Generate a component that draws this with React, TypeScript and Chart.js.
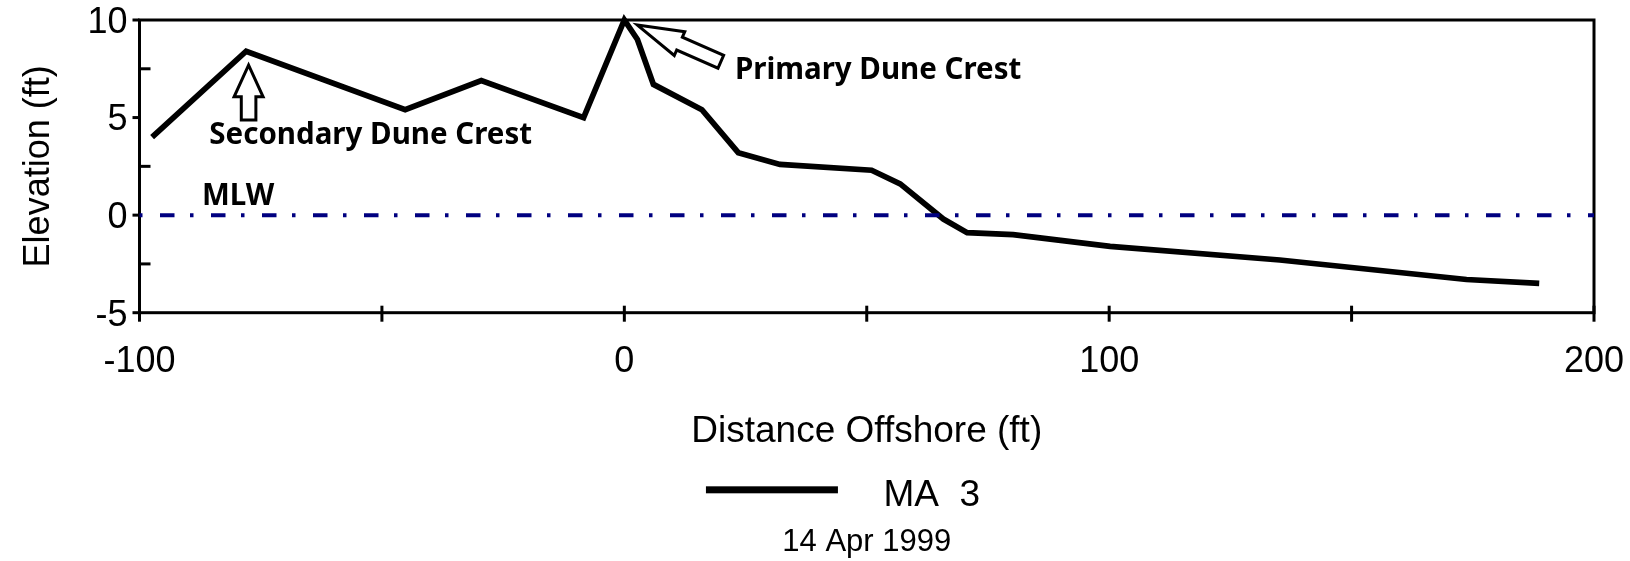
import React, { useEffect, useRef } from 'react';
import { Chart, registerables } from 'chart.js';

Chart.register(...registerables);

// ---- data ----
const distance = [-97.4, -78, -45.2, -29.5, -8.4, 0, 2.7, 6, 16, 23.5, 32.1, 51, 56.9, 65.8, 70.7, 80.2, 100.2, 135.2, 173.7, 188.7];
const elevation = [4.0, 8.4, 5.4, 6.9, 5.0, 10.0, 9.0, 6.7, 5.4, 3.2, 2.6, 2.3, 1.6, -0.2, -0.9, -1.0, -1.6, -2.3, -3.3, -3.5];
const mlwDistance = [-100, 200];
const mlwElevation = [0, 0];
const xMajorTicks = [-100, 0, 100, 200];
const xMinorTicks = [-50, 50, 150];
const yMajorTicks = [-5, 0, 5, 10];
const yMinorTicks = [-2.5, 2.5, 7.5];
const seriesName = 'MA  3';
const dateLabel = '14 Apr 1999';
const xTitle = 'Distance Offshore (ft)';
const yTitle = 'Elevation (ft)';

// annotation anchors in data coordinates
const noteTexts = [
  { text: 'Secondary Dune Crest', x: -85.6, y: 3.62 },
  { text: 'Primary Dune Crest', x: 22.8, y: 7.0 },
  { text: 'MLW', x: -87.1, y: 0.54 },
];
const noteArrows = [
  { tipX: -77.5, tipY: 7.69, tailX: -77.5, tailY: 4.87, head: 31.7, headHalf: 14.5, shaftHalf: 7.3 },
  { tipX: 2.7, tipY: 9.74, tailX: 19.9, tailY: 7.86, head: 46, headHalf: 13, shaftHalf: 7 },
];

const AXIS_FONT = 'Liberation Sans, Arial, Helvetica, sans-serif';
const NOTE_FONT = '"Noto Sans", "DejaVu Sans", sans-serif';

const framePlugin = {
  id: 'frameTicks',
  beforeDatasetsDraw(chart: any) {
    const { ctx, chartArea: ca, scales } = chart;
    const xs = scales.x, ys = scales.y;
    ctx.save();
    ctx.strokeStyle = '#000';
    ctx.lineWidth = 3;
    ctx.lineCap = 'butt';
    ctx.strokeRect(ca.left, ca.top, ca.right - ca.left, ca.bottom - ca.top);
    // x ticks (crossing)
    [...xMajorTicks, ...xMinorTicks].forEach((v) => {
      const px = xs.getPixelForValue(v);
      ctx.beginPath();
      ctx.moveTo(px, ca.bottom - 7);
      ctx.lineTo(px, ca.bottom + 9);
      ctx.stroke();
    });
    // y major ticks outward
    yMajorTicks.forEach((v) => {
      const py = ys.getPixelForValue(v);
      ctx.beginPath();
      ctx.moveTo(ca.left - 7, py);
      ctx.lineTo(ca.left, py);
      ctx.stroke();
    });
    // y minor ticks inward
    yMinorTicks.forEach((v) => {
      const py = ys.getPixelForValue(v);
      ctx.beginPath();
      ctx.moveTo(ca.left, py);
      ctx.lineTo(ca.left + 11, py);
      ctx.stroke();
    });
    ctx.restore();
  },
  afterDatasetsDraw(chart: any) {
    const { ctx, scales } = chart;
    const xs = scales.x, ys = scales.y;
    ctx.save();
    // hollow arrows
    noteArrows.forEach((a) => {
      const tx = xs.getPixelForValue(a.tipX), ty = ys.getPixelForValue(a.tipY);
      const bx = xs.getPixelForValue(a.tailX), by = ys.getPixelForValue(a.tailY);
      const len = Math.hypot(bx - tx, by - ty);
      const ux = (bx - tx) / len, uy = (by - ty) / len;
      const nx = -uy, ny = ux;
      const hx = tx + ux * a.head, hy = ty + uy * a.head;
      ctx.beginPath();
      ctx.moveTo(tx, ty);
      ctx.lineTo(hx + nx * a.headHalf, hy + ny * a.headHalf);
      ctx.lineTo(hx + nx * a.shaftHalf, hy + ny * a.shaftHalf);
      ctx.lineTo(bx + nx * a.shaftHalf, by + ny * a.shaftHalf);
      ctx.lineTo(bx - nx * a.shaftHalf, by - ny * a.shaftHalf);
      ctx.lineTo(hx - nx * a.shaftHalf, hy - ny * a.shaftHalf);
      ctx.lineTo(hx - nx * a.headHalf, hy - ny * a.headHalf);
      ctx.closePath();
      ctx.fillStyle = '#fff';
      ctx.fill();
      ctx.lineWidth = 3;
      ctx.lineJoin = 'miter';
      ctx.strokeStyle = '#000';
      ctx.stroke();
    });
    // texts
    ctx.fillStyle = '#000';
    ctx.textAlign = 'left';
    ctx.textBaseline = 'alphabetic';
    ctx.font = 'bold 29.5px ' + NOTE_FONT;
    noteTexts.forEach((t) => {
      ctx.fillText(t.text, xs.getPixelForValue(t.x), ys.getPixelForValue(t.y));
    });
    ctx.restore();
  },
};

export default function App() {
  const ref = useRef<HTMLCanvasElement | null>(null);

  useEffect(() => {
    document.body.style.margin = '0';
    document.body.style.overflow = 'hidden';
    const canvas = ref.current;
    if (!canvas) return;

    // legend sample: thick black line with transparent margins for placement
    const legendImg = document.createElement('canvas');
    legendImg.width = 251;
    legendImg.height = 30;
    const lctx = legendImg.getContext('2d');
    if (lctx) {
      lctx.fillStyle = '#000';
      lctx.fillRect(92, 6, 132, 7);
    }

    const chart = new Chart(canvas, {
      type: 'line',
      data: {
        datasets: [
          {
            label: seriesName,
            data: distance.map((d, i) => ({ x: d, y: elevation[i] })),
            borderColor: '#000',
            backgroundColor: '#000',
            borderWidth: 5.7,
            pointRadius: 0,
            tension: 0,
            borderJoinStyle: 'miter',
            borderCapStyle: 'butt',
            clip: false as any,
            order: 0,
          },
          {
            label: 'MLW',
            data: mlwDistance.map((d, i) => ({ x: d, y: mlwElevation[i] })),
            borderColor: '#000080',
            backgroundColor: '#000080',
            borderWidth: 4,
            borderDash: [14.5, 15.5, 3.5, 17.5],
            borderDashOffset: 30.5,
            borderCapStyle: 'butt',
            pointRadius: 0,
            tension: 0,
            clip: false as any,
            order: -1,
          },
        ],
      },
      options: {
        responsive: false,
        animation: false,
        events: [],
        layout: { padding: { top: 20, right: 36, left: 0, bottom: 0 } },
        scales: {
          x: {
            type: 'linear',
            min: -100,
            max: 200,
            grid: { display: false, drawTicks: false },
            border: { display: false },
            ticks: {
              stepSize: 100,
              padding: 28,
              color: '#000',
              font: { family: AXIS_FONT, size: 36 },
              maxRotation: 0,
            },
            title: {
              display: true,
              text: xTitle,
              color: '#000',
              font: { family: AXIS_FONT, size: 37 },
              padding: { top: 0, bottom: 22.4 },
            },
            afterFit: (s: any) => {
              s.height = 164.1;
              s.paddingLeft = 0;
              s.paddingRight = 0;
            },
          },
          y: {
            type: 'linear',
            min: -5,
            max: 10,
            grid: { display: false, drawTicks: false },
            border: { display: false },
            ticks: {
              stepSize: 5,
              padding: 12,
              labelOffset: 3,
              color: '#000',
              font: { family: AXIS_FONT, size: 36 },
            },
            title: {
              display: true,
              text: yTitle,
              color: '#000',
              font: { family: AXIS_FONT, size: 36 },
              padding: { top: 17.9, bottom: 0 },
            },
            afterFit: (s: any) => {
              s.width = 139.5;
              s.paddingTop = 0;
              s.paddingBottom = 0;
            },
          },
        },
        plugins: {
          tooltip: { enabled: false },
          legend: {
            display: true,
            position: 'bottom',
            labels: {
              usePointStyle: true,
              pointStyle: legendImg as any,
              pointStyleWidth: 251,
              padding: 0,
              color: '#000',
              font: { family: AXIS_FONT, size: 37 },
              filter: (item: any) => item.datasetIndex === 0,
            },
          },
          subtitle: {
            display: true,
            position: 'bottom',
            fullSize: false,
            text: dateLabel,
            color: '#000',
            font: { family: AXIS_FONT, size: 31, weight: 'normal' },
            padding: 0,
          },
          title: { display: false },
        },
      },
      plugins: [framePlugin],
    });

    return () => chart.destroy();
  }, []);

  return (
    <div style={{ width: 1630, height: 561 }}>
      <canvas ref={ref} width={1630} height={561} style={{ display: 'block' }} />
    </div>
  );
}
